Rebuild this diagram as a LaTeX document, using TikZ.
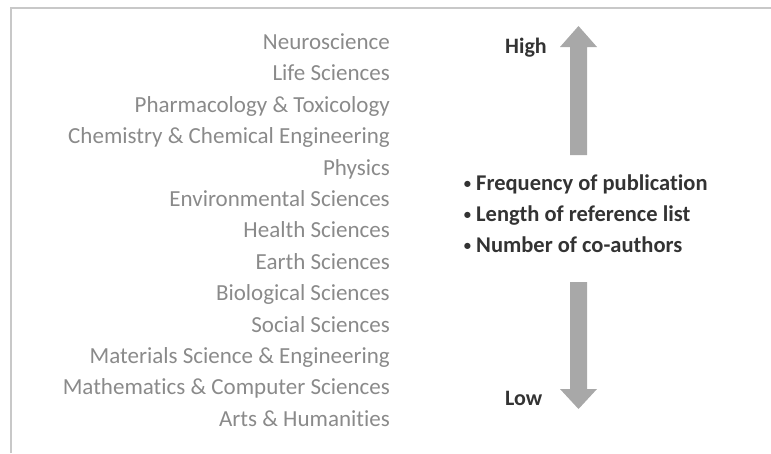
\documentclass[tikz,border=0pt]{standalone}
\usepackage{graphicx}
\usepackage{fontspec}
\setmainfont[Ligatures=NoCommon]{Carlito}
\definecolor{framegray}{HTML}{C8C8C8}
\definecolor{fieldgray}{HTML}{8A8A8A}
\definecolor{arrowgray}{HTML}{A8A8A8}
\definecolor{textdark}{HTML}{333333}
\newcommand{\smalldot}{\makebox[0pt][r]{\raisebox{1.8pt}{\scalebox{0.65}{\textbullet}}\hspace{5pt}}}
\begin{document}
\begin{tikzpicture}[x=1pt,y=-1pt,
  field/.style={anchor=base east,text=fieldgray,font=\fontsize{23}{23}\selectfont,inner sep=0pt},
  bullet/.style={anchor=base west,text=textdark,font=\fontsize{22.5}{22.5}\selectfont\bfseries,inner sep=0pt},
  level/.style={anchor=base west,text=textdark,font=\fontsize{22}{22}\selectfont\bfseries,inner sep=0pt},
  bigarrow/.style={fill=arrowgray,draw=none}]
\useasboundingbox (0,0) rectangle (771,453);
\draw[framegray,line width=1.5pt] (11,453) -- (11,8) -- (771,8);
\foreach \t [count=\i] in {Neuroscience,Life Sciences,Pharmacology \& Toxicology,Chemistry \& Chemical Engineering,Physics,Environmental Sciences,Health Sciences,Earth Sciences,Biological Sciences,Social Sciences,Materials Science \& Engineering,Mathematics \& Computer Sciences,Arts \& Humanities}
  \node[field] (f\i) at (390,{49.5+31.4*(\i-1)}) {\t};
\node[level] (high) at (505,53) {High};
\node[level] (low) at (505,405) {Low};
\node[bullet] (b1) at (476,190) {\smalldot Frequency of publication};
\node[bullet] (b2) at (476,221) {\smalldot Length of reference list};
\node[bullet] (b3) at (476,252) {\smalldot Number of co-authors};
\fill[bigarrow] (570,155) -- (570,47) -- (560,47) -- (578.5,26) -- (597,47) -- (587,47) -- (587,155) -- cycle;
\fill[bigarrow] (570,282) -- (570,389) -- (560,389) -- (578.5,409) -- (597,389) -- (587,389) -- (587,282) -- cycle;
\end{tikzpicture}
\end{document}
